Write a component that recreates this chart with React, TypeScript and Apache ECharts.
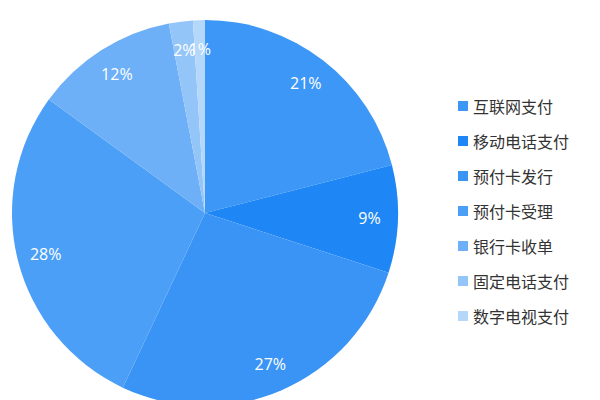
import React, { useEffect, useRef } from 'react';
import * as echarts from 'echarts';

const categories = ['互联网支付', '移动电话支付', '预付卡发行', '预付卡受理', '银行卡收单', '固定电话支付', '数字电视支付'];
const shares = [21, 9, 27, 28, 12, 2, 1];
const colors = ['#3d97f6', '#1f87f5', '#3a94f5', '#4b9ff6', '#6db0f7', '#93c5f8', '#b5d8fa'];

const App: React.FC = () => {
  const chartRef = useRef<HTMLDivElement>(null);

  useEffect(() => {
    if (!chartRef.current) return;
    const chart = echarts.init(chartRef.current, undefined, { renderer: 'svg' });

    const data = categories.map((name, i) => ({
      name,
      value: shares[i],
      itemStyle: { color: colors[i] }
    }));

    const option: echarts.EChartsOption = {
      animation: false,
      backgroundColor: '#ffffff',
      color: colors,
      legend: {
        orient: 'vertical',
        left: 453,
        top: 93,
        itemWidth: 10,
        itemHeight: 10,
        itemGap: 19,
        icon: 'rect',
        data: categories,
        textStyle: {
          fontSize: 16,
          color: '#333',
          fontFamily: 'Noto Sans CJK SC'
        }
      },
      series: [
        {
          type: 'pie',
          center: [205, 213],
          radius: [0, 193],
          startAngle: 90,
          clockwise: true,
          silent: true,
          label: { show: false },
          labelLine: { show: false },
          data
        },
        {
          // 仅用于放置百分比标签
          type: 'pie',
          center: [205, 213],
          radius: [130, 193],
          startAngle: 90,
          clockwise: true,
          silent: true,
          avoidLabelOverlap: false,
          labelLayout: { hideOverlap: false },
          itemStyle: { color: 'rgba(0,0,0,0)' },
          label: {
            show: true,
            position: 'inside',
            formatter: '{c}%',
            color: '#ffffff',
            fontSize: 16,
            fontFamily: 'Open Sans'
          },
          labelLine: { show: false },
          data: categories.map((name, i) => ({ name, value: shares[i], itemStyle: { color: 'rgba(0,0,0,0)' } }))
        }
      ]
    };

    chart.setOption(option);
    return () => {
      chart.dispose();
    };
  }, []);

  return (
    <div
      ref={chartRef}
      style={{ position: 'fixed', left: 0, top: 0, width: '600px', height: '400px' }}
    />
  );
};

export default App;
